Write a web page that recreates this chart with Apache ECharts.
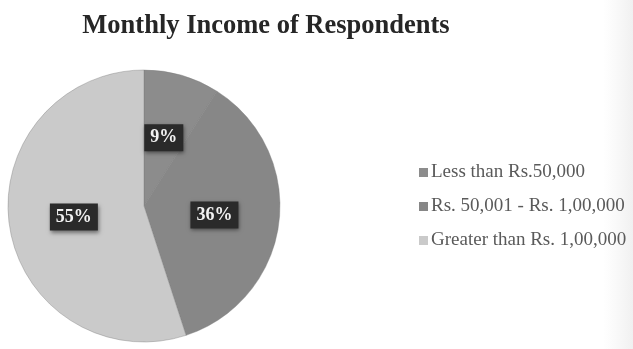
<!DOCTYPE html>
<html>
<head>
<meta charset="utf-8">
<script src="https://cdn.jsdelivr.net/npm/echarts@6/dist/echarts.min.js"></script>
<style>
  html, body { margin: 0; padding: 0; background: #ffffff; }
  #chart { width: 633px; height: 349px; }
</style>
</head>
<body>
<div id="chart"></div>
<script>
// Income brackets and share of respondents (%)
const categories = ['Less than Rs.50,000', 'Rs. 50,001 - Rs. 1,00,000', 'Greater than Rs. 1,00,000'];
const shares = [9, 36, 55];
const sliceColors = ['#8c8c8c', '#878787', '#cacaca'];
const titleText = 'Monthly Income of Respondents';

const chart = echarts.init(document.getElementById('chart'), null, { renderer: 'canvas' });

const serif = '"Liberation Serif", "DejaVu Serif", serif';

chart.setOption({
  backgroundColor: '#ffffff',
  animation: false,
  title: {
    text: titleText,
    left: 261,
    textAlign: 'center',
    top: 8,
    textStyle: {
      fontFamily: serif,
      fontWeight: 'bold',
      fontSize: 26.5,
      color: '#262626'
    }
  },
  legend: {
    orient: 'vertical',
    left: 414,
    top: 158,
    itemWidth: 9,
    itemHeight: 9,
    itemGap: 15,
    icon: 'rect',
    data: categories,
    itemStyle: { borderWidth: 0 },
    textStyle: {
      fontFamily: serif,
      fontSize: 19,
      color: '#5a5a5a',
      padding: [0, 0, 0, -2]
    }
  },
  graphic: [{
    type: 'rect',
    right: 0,
    top: 0,
    z: -10,
    shape: { width: 30, height: 349 },
    style: {
      fill: new echarts.graphic.LinearGradient(0, 0, 1, 0, [
        { offset: 0, color: 'rgba(238,238,238,0)' },
        { offset: 1, color: 'rgba(234,234,234,0.7)' }
      ])
    }
  }],
  series: [{
    type: 'pie',
    center: [144, 206],
    radius: 136,
    startAngle: 90,
    clockwise: true,
    avoidLabelOverlap: false,
    itemStyle: {
      borderColor: '#7c7c7c',
      borderWidth: 0.4
    },
    label: {
      show: true,
      position: 'inner',
      formatter: '{c}%',
      fontFamily: serif,
      fontWeight: 'bold',
      fontSize: 18,
      color: '#f2f2f2',
      backgroundColor: '#2a2a2a',
      padding: [5, 6, 4, 6],
      shadowColor: 'rgba(0,0,0,0.45)',
      shadowBlur: 4,
      shadowOffsetX: 1,
      shadowOffsetY: 2
    },
    labelLine: { show: false },
    data: categories.map((name, i) => ({
      name: name,
      value: shares[i],
      itemStyle: { color: sliceColors[i] }
    }))
  }]
});
</script>
</body>
</html>
